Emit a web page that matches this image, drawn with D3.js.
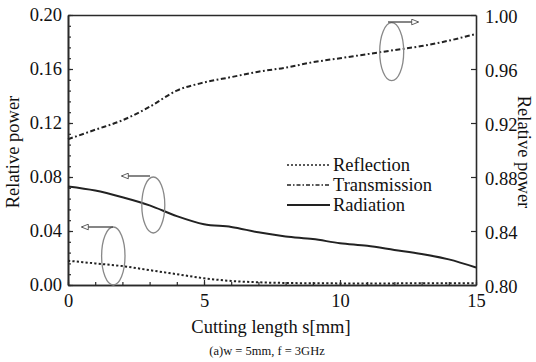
<!DOCTYPE html>
<html><head><meta charset="utf-8">
<script src="https://cdn.jsdelivr.net/npm/d3@7"></script>
</head>
<body style="margin:0;background:#fff"><svg id="c" width="536" height="362"></svg>
<script>
const cuttingLength = [0,1,2,3,4,5,6,7,8,9,10,11,12,13,14,15];
const reflection = [0.018,0.016,0.014,0.011,0.008,0.005,0.003,0.002,0.0015,0.0013,0.0012,0.0012,0.0012,0.0013,0.0013,0.0013];
const radiation = [0.073,0.070,0.065,0.059,0.051,0.045,0.043,0.039,0.036,0.034,0.031,0.029,0.026,0.023,0.019,0.013];
const transmission = [0.908,0.915,0.922,0.932,0.944,0.950,0.954,0.958,0.961,0.965,0.968,0.971,0.974,0.977,0.981,0.986];
const xTicks = [0,5,10,15];
const leftTicks = [0,0.04,0.08,0.12,0.16,0.20];
const rightTicks = [0.80,0.84,0.88,0.92,0.96,1.00];
const legendLabels = ["Reflection","Transmission","Radiation"];

const FF="'Liberation Serif', Tinos, 'Times New Roman', serif";
const svg = d3.select("#c");
const L=68,R=476,T=15,B=285;
const x = d3.scaleLinear().domain([0,15]).range([L,R]);
const yL = d3.scaleLinear().domain([0,0.20]).range([B,T]);
const yR = d3.scaleLinear().domain([0.80,1.00]).range([B,T]);
const ink="#2a2a2a";

const txt=(sel,size)=>sel.style("font-family",FF).style("font-size",size+"px").attr("fill","#111");

// axes
const gL = svg.append("g").attr("transform",`translate(${L},0)`)
  .call(d3.axisLeft(yL).tickValues(leftTicks).tickFormat(d3.format(".2f")).tickSizeInner(-5).tickSizeOuter(0).tickPadding(6));
const gLm = svg.append("g").attr("transform",`translate(${L},0)`)
  .call(d3.axisLeft(yL).tickValues(d3.range(0,0.2001,0.008)).tickFormat("").tickSizeInner(-3).tickSizeOuter(0));
const gR = svg.append("g").attr("transform",`translate(${R},0)`)
  .call(d3.axisRight(yR).tickValues(rightTicks).tickFormat(d3.format(".2f")).tickSizeInner(-5).tickSizeOuter(0).tickPadding(9));
const gB = svg.append("g").attr("transform",`translate(0,${B})`)
  .call(d3.axisBottom(x).tickValues(xTicks).tickFormat(d3.format("d")).tickSizeInner(-5).tickSizeOuter(0).tickPadding(9));
const gBm = svg.append("g").attr("transform",`translate(0,${B})`)
  .call(d3.axisBottom(x).tickValues(d3.range(0,16,1)).tickFormat("").tickSizeInner(-3).tickSizeOuter(0));
const gT = svg.append("g").attr("transform",`translate(0,${T})`)
  .call(d3.axisTop(x).tickValues([]).tickSizeOuter(0));
[gL,gLm,gR,gB,gBm,gT].forEach(g=>{
  g.attr("font-family",null).attr("font-size",null);
  g.selectAll("path").attr("stroke",ink).attr("stroke-width",1.6);
  g.selectAll("line").attr("stroke",ink).attr("stroke-width",1.2);
  g.selectAll("text").call(txt,18.5);
});
gR.selectAll("text").attr("dy","0.4em");

// lines
const mk = (ys,sc)=>d3.line().x((d,i)=>x(cuttingLength[i])).y(d=>sc(d)).curve(d3.curveMonotoneX)(ys);
svg.append("path").attr("d",mk(reflection,yL)).attr("fill","none").attr("stroke","#222").attr("stroke-width",2).attr("stroke-dasharray","2.2,2.2");
svg.append("path").attr("d",mk(radiation,yL)).attr("fill","none").attr("stroke","#222").attr("stroke-width",2);
svg.append("path").attr("d",mk(transmission,yR)).attr("fill","none").attr("stroke","#222").attr("stroke-width",2).attr("stroke-dasharray","5,2.5,1.8,2.5");

// axis titles
svg.append("text").call(txt,18.5).attr("transform",`translate(19,152) rotate(-90)`).attr("text-anchor","middle").text("Relative power");
svg.append("text").call(txt,18.5).attr("transform",`translate(518,152) rotate(90)`).attr("text-anchor","middle").text("Relative power");
svg.append("text").call(txt,18.5).attr("x",271).attr("y",333).attr("text-anchor","middle").text("Cutting length s[mm]");
svg.append("text").call(txt,12.5).attr("x",267).attr("y",355).attr("text-anchor","middle").text("(a)w = 5mm,  f = 3GHz");

// legend
const dashes=["2,2","4,2,1.5,2",null];
legendLabels.forEach((lab,i)=>{
  const yy=165+i*20;
  const ln=svg.append("line").attr("x1",287).attr("x2",330).attr("y1",yy).attr("y2",yy).attr("stroke","#222").attr("stroke-width",i==2?2:1.4);
  if(dashes[i]) ln.attr("stroke-dasharray",dashes[i]);
  svg.append("text").call(txt,18.5).attr("x",333).attr("y",yy+6).text(lab);
});

// annotations
const defs=svg.append("defs");
defs.append("marker").attr("id","ah").attr("viewBox","0 0 10 10").attr("refX",9).attr("refY",5)
  .attr("markerWidth",9).attr("markerHeight",7).attr("markerUnits","userSpaceOnUse").attr("orient","auto")
  .append("path").attr("d","M0,1 L10,5 L0,9 Z").attr("fill","#fff").attr("stroke","#444").attr("stroke-width",1.2);
const ann=[{cx:391.7,cy:51.7,rx:12,ry:29,ax1:388,ay:22,ax2:418},
           {cx:153.3,cy:205,rx:11.5,ry:28,ax1:150,ay:176,ax2:122},
           {cx:113.3,cy:256,rx:11.7,ry:29,ax1:113,ay:227,ax2:82}];
ann.forEach(a=>{
  svg.append("ellipse").attr("cx",a.cx).attr("cy",a.cy).attr("rx",a.rx).attr("ry",a.ry).attr("fill","none").attr("stroke","#888").attr("stroke-width",1.3);
  svg.append("line").attr("x1",a.ax1).attr("x2",a.ax2).attr("y1",a.ay).attr("y2",a.ay).attr("stroke","#444").attr("stroke-width",1.3).attr("marker-end","url(#ah)");
});
</script></body></html>
